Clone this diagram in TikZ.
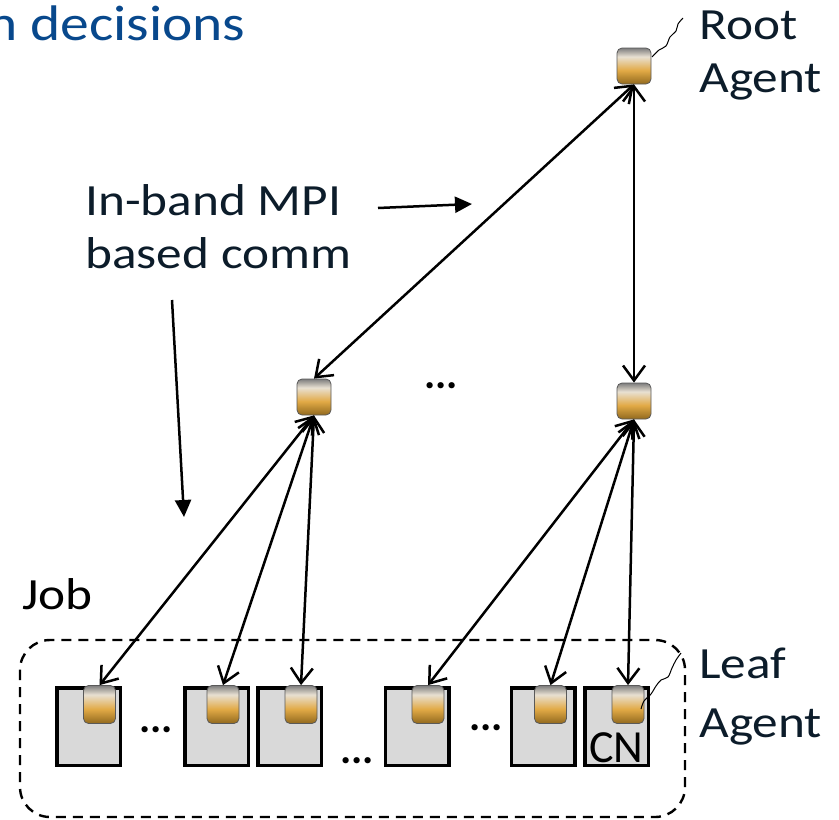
\documentclass[tikz,border=0pt]{standalone}
\usepackage{fontspec}
\setmainfont{Carlito}
\newfontfamily\lblfont[FakeStretch=1.15]{Carlito}
\usetikzlibrary{arrows.meta}

\definecolor{lbltext}{RGB}{12,28,42}
\definecolor{titleblue}{RGB}{8,72,140}
\definecolor{cngray}{RGB}{217,217,217}
\definecolor{agtop}{RGB}{125,125,125}
\definecolor{aglight}{RGB}{232,224,210}
\definecolor{aggold}{RGB}{226,170,70}
\definecolor{agbot}{RGB}{145,105,30}

\pgfdeclareverticalshading{agentshade}{100bp}{color(0bp)=(agbot); color(25bp)=(agbot); color(44bp)=(aggold); color(63bp)=(aglight); color(75bp)=(agtop); color(100bp)=(agtop)}

\begin{document}
\begin{tikzpicture}[x = 0.5pt, y = -0.5pt, > = {Straight Barb[length = 7.5pt, width = 11pt]},
	agentsq/.style = {draw = gray!70!black, line width = 0.4pt, rounded corners = 2.5pt, shading = agentshade, minimum width = 17pt, minimum height = 18pt, inner sep = 0pt},
	cnbox/.style = {draw, line width = 1.75pt, fill = cngray, minimum width = 31.75pt, minimum height = 38.75pt, inner sep = 0pt},
	lbltxt/.style = {font = \lblfont\fontsize{22.3}{26.5}\selectfont, text = lbltext, align = left, inner sep = 0pt, anchor = base west},
	dotsep/.style = {font = \fontsize{21}{22}\selectfont\bfseries, inner sep = 0pt, anchor = base}]

	\useasboundingbox (0, 0) rectangle (839, 819);

	% Title

	\node [anchor = base east, font = \lblfont\fontsize{25}{30}\selectfont, text = titleblue, inner sep = 0pt] (title) at (246, 40) {n decisions};

	% Job

	\draw [line width = 1.2pt, dash pattern = on 5pt off 3.5pt, rounded corners = 15pt] (20, 640) rectangle (685, 817);
	\node [lbltxt, text = black] (job) at (22, 609) {Job};

	% Compute nodes

	\foreach \i/\x in {1/88.5, 2/216.5, 3/289.5, 4/417, 5/543, 6/616.5}
		\node [cnbox] (cn\i) at (\x, 726.5) {};

	\node [anchor = base, font = \fontsize{23}{26}\selectfont, inner sep = 0pt] (cnlbl) at (616.5, 762) {CN};

	\node [dotsep] (dotsA) at (156, 732) {...};
	\node [dotsep] (dotsB) at (357, 763) {...};
	\node [dotsep] (dotsC) at (486, 730) {...};
	\node [dotsep] (dotsM) at (441, 388) {...};

	% Agents

	\node [agentsq] (root) at (634, 66) {};
	\node [agentsq] (midL) at (314, 397) {};
	\node [agentsq] (midR) at (634, 401) {};

	\foreach \i/\x in {1/99.5, 2/223, 3/301, 4/428, 5/550.5, 6/628}
		\node [agentsq, minimum width = 16pt, minimum height = 19pt] (leaf\i) at (\x, 704.5) {};

	% Labels

	\node [lbltxt] (rootlbl) at (699, 92) {Root\\Agent};
	\node [lbltxt] (leaflbl) at (699, 737) {Leaf\\[3pt]Agent};
	\node [lbltxt] (commlbl) at (85, 268) {In-band MPI\\based comm};

	\draw [line width = 0.5pt] plot [smooth] coordinates {(652, 57) (659, 50) (666, 46) (670, 37) (676, 31) (678, 24) (683, 18)};
	\draw [line width = 0.5pt] plot [smooth] coordinates {(641, 709) (644, 701) (651, 694) (656, 686) (661, 680) (668, 677) (672, 668) (676, 660) (681, 653)};

	% Communication links

	\begin{scope}[<->, line width = 1.25pt]

		\draw (root.south) -- (midL.north);
		\draw (root.south) -- (midR.north);

		\foreach \j in {1, 2, 3}
			\draw (midL.south) -- (leaf\j.north);
		\foreach \j in {4, 5, 6}
			\draw (midR.south) -- (leaf\j.north);

	\end{scope}

	% Pointers

	\coordinate (ptrA) at (378, 208);
	\coordinate (tipA) at (472, 204);
	\coordinate (ptrB) at (172, 300);
	\coordinate (tipB) at (184, 517);

	\begin{scope}[-{Triangle[length = 8.5pt, width = 8pt]}, line width = 1.25pt]

		\draw (ptrA) -- (tipA);
		\draw (ptrB) -- (tipB);

	\end{scope}

\end{tikzpicture}
\end{document}
